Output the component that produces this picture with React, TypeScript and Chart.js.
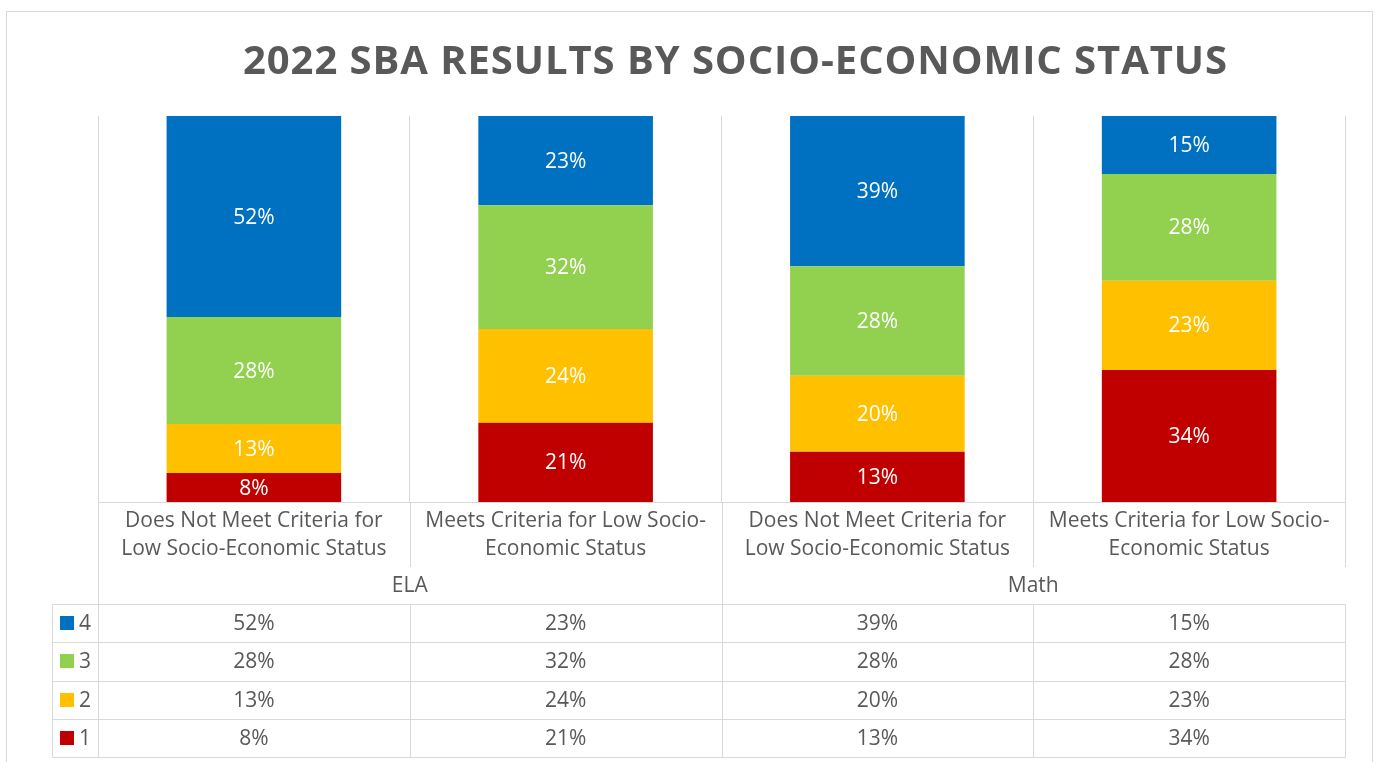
import React, { useEffect, useRef } from 'react';
import { Chart, registerables } from 'chart.js';

Chart.register(...registerables);

// ---- data ----
const categories: string[][] = [
  ['Does Not Meet Criteria for', 'Low Socio-Economic Status'],
  ['Meets Criteria for Low Socio-', 'Economic Status'],
  ['Does Not Meet Criteria for', 'Low Socio-Economic Status'],
  ['Meets Criteria for Low Socio-', 'Economic Status'],
];
const groupLabels = ['ELA', 'Math'];
const groupSpans = [2, 2];
const seriesNames = ['1', '2', '3', '4'];
const level1 = [7.5, 20.5, 13.0, 34.2];
const level2 = [12.7, 24.3, 19.7, 23.1];
const level3 = [27.7, 32.1, 28.4, 27.7];
const level4 = [52.1, 23.1, 38.9, 15.0];
const seriesColors = ['#C00000', '#FFC000', '#92D050', '#0070C0'];
const titleText = '2022 SBA RESULTS BY SOCIO-ECONOMIC STATUS';

const FONT = '"Open Sans", "Noto Sans", sans-serif';
const FS = 21;
const TEXT = '#595959';
const LINE = '#d9d9d9';

const seriesValues = [level1, level2, level3, level4];
const totals = categories.map((_, i) => seriesValues.reduce((s, arr) => s + arr[i], 0));
const fmt = (v: number) => `${Math.round(v)}%`;

const extrasPlugin = {
  id: 'extras',
  beforeDraw(chart: any) {
    const ctx = chart.ctx;
    ctx.save();
    ctx.fillStyle = '#ffffff';
    ctx.fillRect(0, 0, chart.width, chart.height);
    ctx.restore();
  },
  afterDatasetsDraw(chart: any) {
    const ctx = chart.ctx;
    ctx.save();
    ctx.fillStyle = '#ffffff';
    ctx.font = `${FS}px ${FONT}`;
    ctx.textAlign = 'center';
    ctx.textBaseline = 'middle';
    chart.data.datasets.forEach((ds: any, di: number) => {
      const meta = chart.getDatasetMeta(di);
      meta.data.forEach((bar: any, i: number) => {
        const yc = (bar.y + bar.base) / 2;
        ctx.fillText(fmt(seriesValues[di][i]), bar.x, yc + 1);
      });
    });
    ctx.restore();
  },
  afterDraw(chart: any) {
    const ctx = chart.ctx;
    const xs = chart.scales.x;
    const area = chart.chartArea;
    const n = categories.length;
    const centers = categories.map((_, i) => xs.getPixelForValue(i));
    const edges: number[] = [area.left];
    for (let i = 0; i < n - 1; i++) edges.push((centers[i] + centers[i + 1]) / 2);
    edges.push(area.right);
    const E = edges.map((e) => Math.round(e) + 0.5);

    const bottom = area.bottom;
    const labelBottom = bottom + 65;
    const tableTop = bottom + 102;
    const rowH = 38.25;
    const nRows = seriesNames.length;
    const tableBottom = tableTop + rowH * nRows;
    const legendLeft = 52.5;

    ctx.save();
    // outer frame
    ctx.strokeStyle = LINE;
    ctx.lineWidth = 1;
    ctx.strokeRect(6.5, 11.5, 1366, 800);

    // title
    ctx.fillStyle = TEXT;
    ctx.font = `bold 40px ${FONT}`;
    ctx.textBaseline = 'alphabetic';
    ctx.textAlign = 'left';
    const target = 984;
    (ctx as any).letterSpacing = '0px';
    const w0 = ctx.measureText(titleText).width;
    const sp = (target - w0) / (titleText.length - 1);
    (ctx as any).letterSpacing = `${sp}px`;
    ctx.fillText(titleText, 735 - target / 2, 74);
    (ctx as any).letterSpacing = '0px';

    // extension lines below plot
    ctx.strokeStyle = LINE;
    ctx.beginPath();
    ctx.moveTo(E[0], bottom);
    ctx.lineTo(E[0], tableBottom);
    const groupEnds: number[] = [];
    let acc = 0;
    groupSpans.forEach((s) => { acc += s; groupEnds.push(acc); });
    for (let k = 1; k < n; k++) {
      const isGroup = groupEnds.includes(k);
      ctx.moveTo(E[k], bottom);
      ctx.lineTo(E[k], isGroup ? tableTop : labelBottom);
    }
    ctx.moveTo(E[n], bottom);
    ctx.lineTo(E[n], labelBottom);
    ctx.stroke();

    // group labels
    ctx.fillStyle = TEXT;
    ctx.font = `${FS}px ${FONT}`;
    ctx.textAlign = 'center';
    ctx.textBaseline = 'middle';
    let start = 0;
    groupSpans.forEach((s, g) => {
      const x = (edges[start] + edges[start + s]) / 2;
      ctx.fillText(groupLabels[g], x, bottom + 84);
      start += s;
    });

    // table
    ctx.strokeStyle = LINE;
    ctx.beginPath();
    for (let r = 0; r <= nRows; r++) {
      const y = Math.round(tableTop + r * rowH) + 0.5;
      ctx.moveTo(legendLeft, y);
      ctx.lineTo(E[n], y);
    }
    ctx.moveTo(legendLeft, Math.round(tableTop) + 0.5);
    ctx.lineTo(legendLeft, Math.round(tableBottom) + 0.5);
    for (let k = 0; k <= n; k++) {
      ctx.moveTo(E[k], Math.round(tableTop) + 0.5);
      ctx.lineTo(E[k], Math.round(tableBottom) + 0.5);
    }
    ctx.stroke();

    for (let r = 0; r < nRows; r++) {
      const si = nRows - 1 - r;
      const yc = tableTop + r * rowH + rowH / 2;
      ctx.fillStyle = seriesColors[si];
      ctx.fillRect(60, Math.round(yc - 7), 14, 14);
      ctx.fillStyle = TEXT;
      ctx.textAlign = 'left';
      ctx.fillText(seriesNames[si], 79, yc + 1);
      ctx.textAlign = 'center';
      for (let i = 0; i < n; i++) {
        ctx.fillText(fmt(seriesValues[si][i]), centers[i], yc + 1);
      }
    }
    ctx.restore();
  },
};

export default function App() {
  const ref = useRef<HTMLCanvasElement | null>(null);
  useEffect(() => {
    if (!ref.current) return;
    const chart = new Chart(ref.current, {
      type: 'bar',
      data: {
        labels: categories,
        datasets: seriesValues.map((vals, si) => ({
          label: seriesNames[si],
          data: vals.map((v, i) => (v / totals[i]) * 100),
          backgroundColor: seriesColors[si],
          borderWidth: 0,
          barPercentage: 0.56,
          categoryPercentage: 1,
        })),
      },
      options: {
        responsive: false,
        animation: false,
        devicePixelRatio: 1,
        layout: { padding: { left: 98, right: 35, top: 116, bottom: 0 } },
        plugins: {
          legend: { display: false },
          title: { display: false },
          tooltip: { enabled: false },
        },
        scales: {
          x: {
            stacked: true,
            offset: true,
            grid: { display: true, offset: true, color: LINE, drawTicks: false, lineWidth: 1 },
            border: { display: true, color: LINE },
            ticks: {
              color: TEXT,
              font: { family: FONT, size: FS, lineHeight: 1.333 },
              padding: 5,
              autoSkip: false,
              maxRotation: 0,
              minRotation: 0,
            },
            afterFit: (scale: any) => { scale.height = 260; },
          },
          y: {
            stacked: true,
            display: false,
            min: 0,
            max: 100,
          },
        },
      },
      plugins: [extrasPlugin],
    });
    return () => chart.destroy();
  }, []);
  return (
    <div style={{ position: 'absolute', left: 0, top: 0, width: 1380, height: 762, background: '#fff' }}>
      <canvas ref={ref} width={1380} height={762} style={{ display: 'block' }} />
    </div>
  );
}
